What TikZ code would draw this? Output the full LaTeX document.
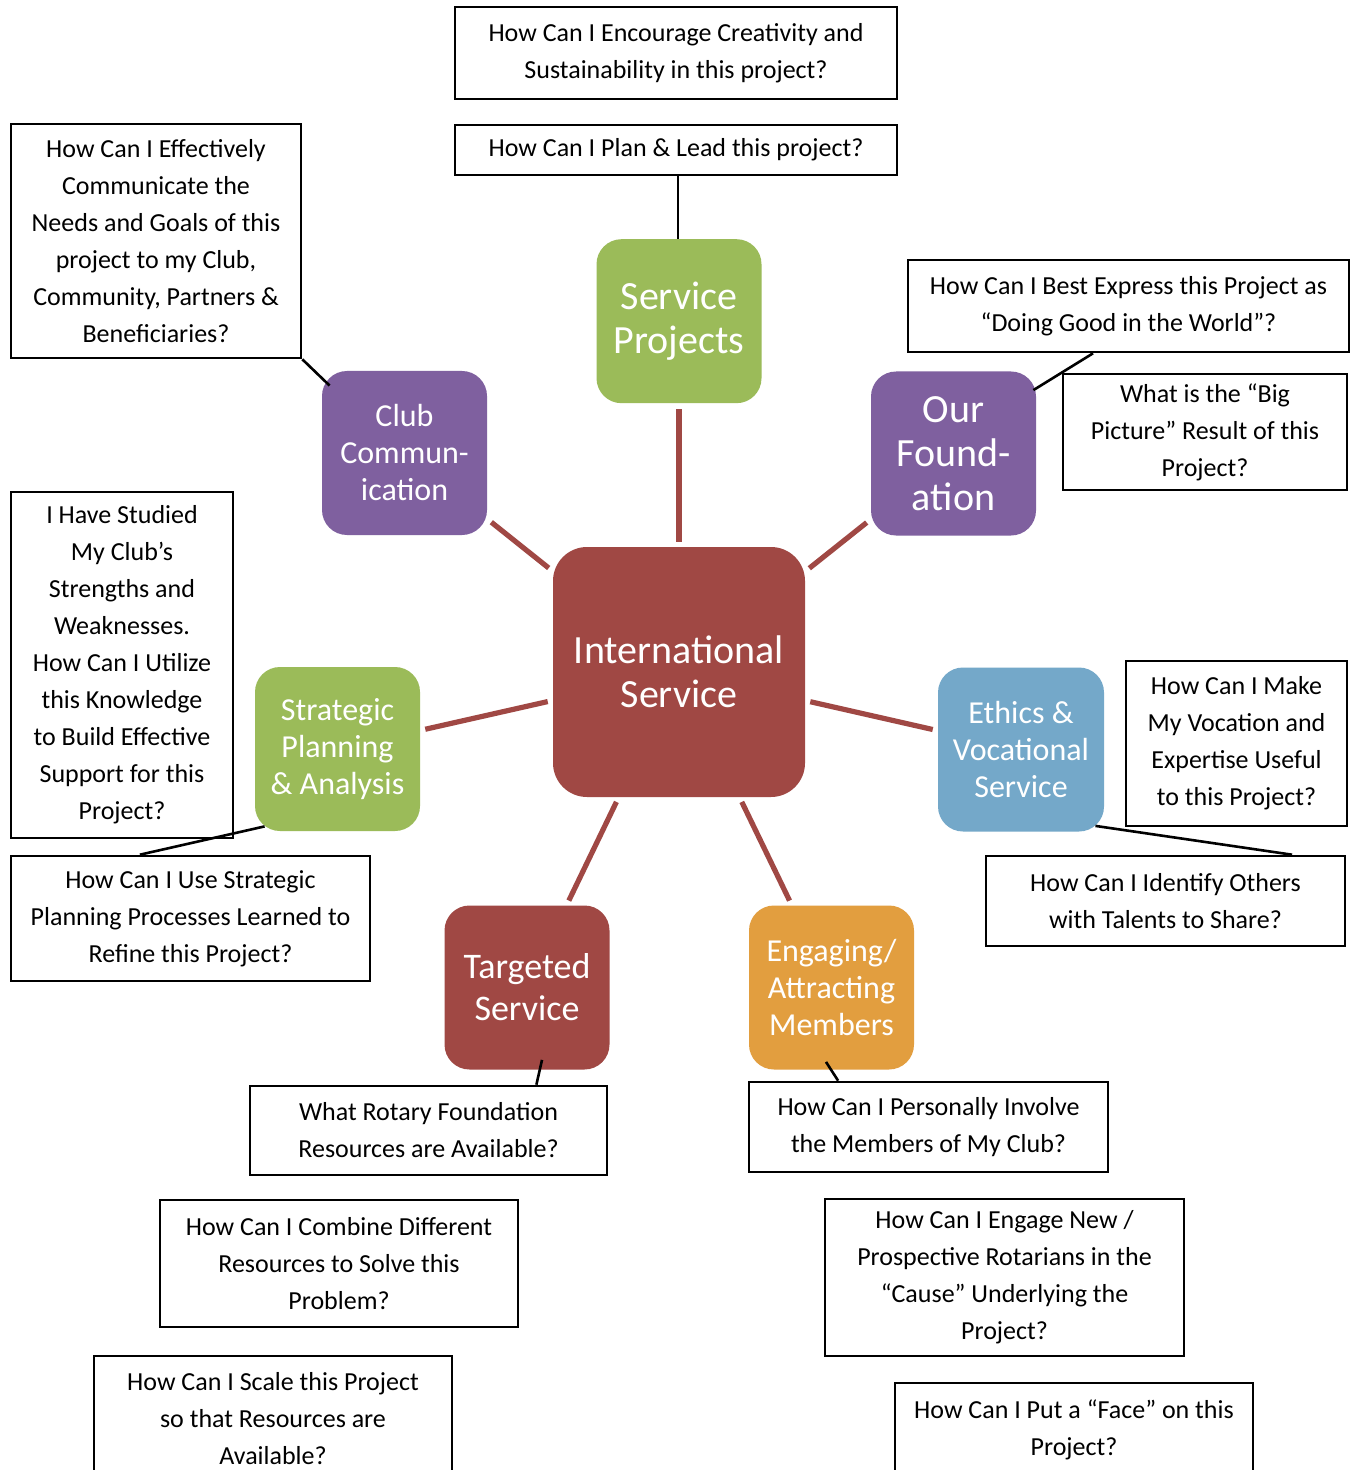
\documentclass[tikz,border=0pt]{standalone}
\usepackage{fontspec}
\setmainfont{Carlito}
\usepackage{tikz}
\usetikzlibrary{positioning, calc}
\definecolor{hubred}{HTML}{A04844}
\definecolor{topicgreen}{HTML}{9BBB59}
\definecolor{topicpurple}{HTML}{7F609F}
\definecolor{topicblue}{HTML}{74A8C9}
\definecolor{topicorange}{HTML}{E29E3F}
\tikzset{
	question/.append style={
		draw,
		line width=1.3pt,
		align = center,
		inner sep=0pt,
		font={\fontsize{13}{18.5}\selectfont}
	},
	topic/.append style={
		%white text on coloured box
		rounded corners=12.5pt,
		align = center,
		text=white,
		inner sep=0pt,
		minimum width=82.5pt,
		minimum height=82pt,
		font={\fontsize{16}{18.5}\selectfont}
	},
	big/.append style={
		font={\fontsize{20}{22}\selectfont}
	},
	spoke/.append style={
		draw=hubred,
		line width=2.6pt,
		shorten <=2.5pt,
		shorten >=2.5pt
	},
	link/.append style={
		draw,
		line width=1.3pt
	}
}

\begin{document}
\begin{tikzpicture}[x=0.5pt, y=-0.5pt]
\path[use as bounding box, clip] (0,0) rectangle (1351,1470);
\fill[white] (0,0) rectangle (1351,1470);

% hub and topics
\node(is)[topic,big,fill=hubred,minimum width=126pt,minimum height=125pt,rounded corners=17pt] at (679,672) {International\\Service};
\node(sp)[topic,big,fill=topicgreen,above=71.5pt of is] {Service\\Projects};
\node(cc)[topic,fill=topicpurple] at (404.5,453) {Club\\Commun-\\ication};
\node(fd)[topic,big,fill=topicpurple] at (953.5,453.5) {Our\\Found-\\ation};
\node(spa)[topic,fill=topicgreen] at (337.5,749) {Strategic\\Planning\\\& Analysis};
\node(eth)[topic,fill=topicblue,minimum width=83pt] at (1021,749.5) {Ethics \&\\Vocational\\Service};
\node(tgt)[topic,fill=hubred,font={\fontsize{18}{21}\selectfont}] at (527,987.5) {Targeted\\Service};
\node(eng)[topic,fill=topicorange] at (831.5,987.5) {Engaging/\\Attracting\\Members};

% questions
\node(qplan)[question,minimum width=221pt,minimum height=25pt,above=31.2pt of sp,xshift=-1.5pt] {How Can I Plan \& Lead this project?};
\node(qcre)[question,minimum width=221pt,minimum height=46pt,above=11.7pt of qplan] {How Can I Encourage Creativity and\\Sustainability in this project?};
\node(qcomm)[question,minimum width=145pt,minimum height=117pt] at (156,241) {How Can I Effectively\\Communicate the\\Needs and Goals of this\\project to my Club,\\Community, Partners \&\\Beneficiaries?};
\node(qexp)[question,minimum width=220.5pt,minimum height=46pt] at (1128.5,306) {How Can I Best Express this Project as\\“Doing Good in the World”?};
\node(qbig)[question,minimum width=142pt,minimum height=58pt] at (1205,432) {What is the “Big\\Picture” Result of this\\Project?};
\node(qstudy)[question,minimum width=111pt,minimum height=173pt] at (122,665) {I Have Studied\\My Club’s\\Strengths and\\Weaknesses.\\How Can I Utilize\\this Knowledge\\to Build Effective\\Support for this\\Project?};
\node(qstrat)[question,minimum width=179.5pt,minimum height=62.5pt] at (190.5,918.5) {How Can I Use Strategic\\Planning Processes Learned to\\Refine this Project?};
\node(qvoc)[question,minimum width=110.5pt,minimum height=82.5pt] at (1236.5,743.5) {How Can I Make\\My Vocation and\\Expertise Useful\\to this Project?};
\node(qtal)[question,minimum width=179.5pt,minimum height=45pt] at (1165.5,901) {How Can I Identify Others\\with Talents to Share?};
\node(qrot)[question,minimum width=178.5pt,minimum height=44.5pt] at (428.5,1130.5) {What Rotary Foundation\\Resources are Available?};
\node(qinv)[question,minimum width=179.5pt,minimum height=45pt] at (928.5,1127) {How Can I Personally Involve\\the Members of My Club?};
\node(qcomb)[question,minimum width=179pt,minimum height=63.5pt] at (339,1263.5) {How Can I Combine Different\\Resources to Solve this\\Problem?};
\node(qeng)[question,minimum width=179.5pt,minimum height=78.5pt] at (1004.5,1277.5) {How Can I Engage New /\\Prospective Rotarians in the\\“Cause” Underlying the\\Project?};
\node(qscale)[question,minimum width=179pt,minimum height=63pt] at (273,1419) {How Can I Scale this Project\\so that Resources are\\Available?};
\node(qface)[question,minimum width=179pt,minimum height=46.5pt] at (1074,1429.5) {How Can I Put a “Face” on this\\Project?};

% red spokes from the hub
\foreach \t in {sp,cc,fd,spa,eth,tgt,eng}
	\draw[spoke] (is) -- (\t);

% black links to the questions
\draw[link] ([xshift=1pt]qplan.south) -- ([xshift=1pt]qplan.south |- sp.north);
\draw[link] (qcomm.south east) -- ([xshift=4pt,yshift=-7.5pt]cc.north west);
\draw[link] ([xshift=-1.5pt,yshift=-9.5pt]fd.north east) -- ($(qexp.south west)!0.42!(qexp.south east)$);
\draw[link] ([xshift=5pt,yshift=2.5pt]spa.south west) -- ($(qstrat.north west)!0.36!(qstrat.north east)$);
\draw[link] ([xshift=-4.5pt,yshift=3pt]eth.south east) -- ($(qtal.north west)!0.85!(qtal.north east)$);
\draw[link] ([xshift=7.5pt,yshift=5pt]tgt.south) -- ($(qrot.north west)!0.8!(qrot.north east)$);
\draw[link] ([xshift=-2.75pt,yshift=4pt]eng.south) -- ($(qinv.north west)!0.25!(qinv.north east)$);
\end{tikzpicture}
\end{document}
